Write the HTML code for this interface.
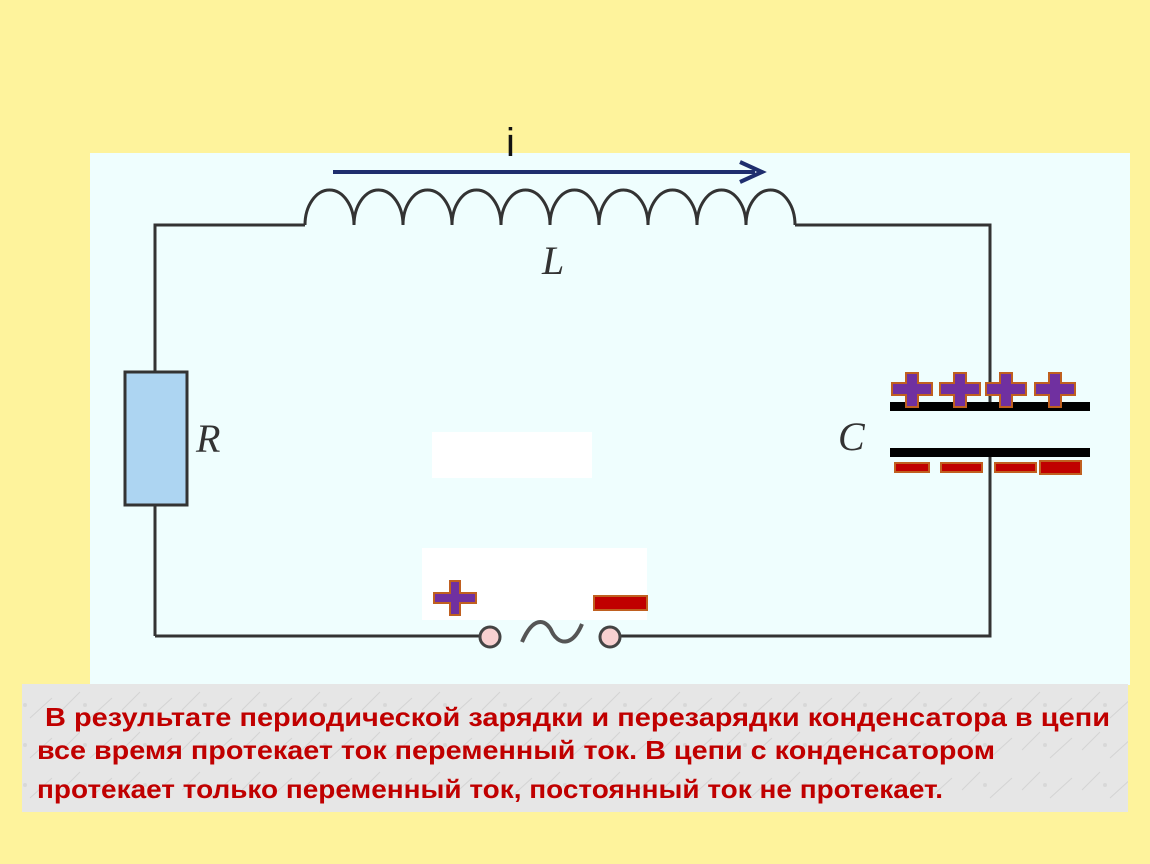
<!DOCTYPE html>
<html><head><meta charset="utf-8"><style>
html,body{margin:0;padding:0;width:1150px;height:864px;background:#FEF39C;overflow:hidden}
</style></head><body>
<svg width="1150" height="864" viewBox="0 0 1150 864" xmlns="http://www.w3.org/2000/svg">
<defs>
<pattern id="m" width="60" height="40" patternUnits="userSpaceOnUse">
<rect width="60" height="40" fill="#E6E6E6"/>
<path d="M2,30 L20,12 M30,38 L52,18" stroke="#D4D4D4" stroke-width="1"/>
<circle cx="25" cy="25" r="2" fill="#D8D8D8"/>
</pattern>
</defs>
<rect x="90" y="153" width="1040" height="532" fill="#EFFEFE"/>
<rect x="432" y="432" width="160" height="46" fill="#fff"/>
<rect x="422" y="548" width="225" height="72" fill="#fff"/>
<g stroke="#333" stroke-width="3" fill="none">
<path d="M155,636 V225 H305 M795,225 H990 V403 M990,452 V636 H620 M480,636 H155"/>
<path d="M305,225 a24.5,35 0 0 1 49,0 a24.5,35 0 0 1 49,0 a24.5,35 0 0 1 49,0 a24.5,35 0 0 1 49,0 a24.5,35 0 0 1 49,0 a24.5,35 0 0 1 49,0 a24.5,35 0 0 1 49,0 a24.5,35 0 0 1 49,0 a24.5,35 0 0 1 49,0 a24.5,35 0 0 1 49,0"/>
<path d="M522,642 C535,612 548,622 552,632 C558,644 572,648 582,624" stroke="#555" stroke-width="4"/>
</g>
<rect x="125" y="372" width="62" height="133" fill="#ADD5F2" stroke="#333" stroke-width="3"/>
<circle cx="490" cy="637" r="10" fill="#F8D0D0" stroke="#444" stroke-width="3"/>
<circle cx="610" cy="637" r="10" fill="#F8D0D0" stroke="#444" stroke-width="3"/>
<rect x="890" y="402" width="200" height="9" fill="#000"/>
<rect x="890" y="448" width="200" height="9" fill="#000"/>
<g fill="#7030A0" stroke="#C06020" stroke-width="2">
<path d="M906,373 h12 v10 h14 v12 h-14 v12 h-12 v-12 h-14 v-12 h14z"/>
<path d="M954,373 h12 v10 h14 v12 h-14 v12 h-12 v-12 h-14 v-12 h14z"/>
<path d="M1000,373 h12 v10 h14 v12 h-14 v12 h-12 v-12 h-14 v-12 h14z"/>
<path d="M1049,373 h12 v10 h14 v12 h-14 v12 h-12 v-12 h-14 v-12 h14z"/>
<path d="M450,581 h10 v12 h16 v10 h-16 v12 h-10 v-12 h-16 v-10 h16z"/>
</g>
<g fill="#C00000" stroke="#C06020" stroke-width="2">
<rect x="895" y="463" width="34" height="9"/>
<rect x="941" y="463" width="41" height="9"/>
<rect x="995" y="463" width="41" height="9"/>
<rect x="1040" y="461" width="41" height="13"/>
<rect x="594" y="596" width="53" height="14"/>
</g>
<line x1="333" y1="172" x2="755" y2="172" stroke="#1F2E6E" stroke-width="4"/>
<path d="M740,162 L762,172 L740,182" fill="none" stroke="#1F2E6E" stroke-width="4"/>
<text x="506" y="156" font-family="Liberation Sans, sans-serif" font-size="40" fill="#111">i</text>
<text x="542" y="274" font-family="Liberation Serif, serif" font-style="italic" font-size="40" fill="#333">L</text>
<text x="196" y="452" font-family="Liberation Serif, serif" font-style="italic" font-size="40" fill="#333">R</text>
<text x="838" y="450" font-family="Liberation Serif, serif" font-style="italic" font-size="40" fill="#333">C</text>
<rect x="22" y="684" width="1106" height="128" fill="url(#m)"/>
<g font-family="Liberation Sans, sans-serif" font-weight="bold" font-size="26" fill="#C00000">
<text x="45" y="726" textLength="1065" lengthAdjust="spacingAndGlyphs">В результате  периодической зарядки и  перезарядки  конденсатора  в  цепи</text>
<text x="37" y="759" textLength="958" lengthAdjust="spacingAndGlyphs">все  время  протекает  ток переменный  ток. В цепи с конденсатором</text>
<text x="37" y="798" textLength="906" lengthAdjust="spacingAndGlyphs">протекает только переменный ток, постоянный ток не протекает.</text>
</g>
</svg>
</body></html>
